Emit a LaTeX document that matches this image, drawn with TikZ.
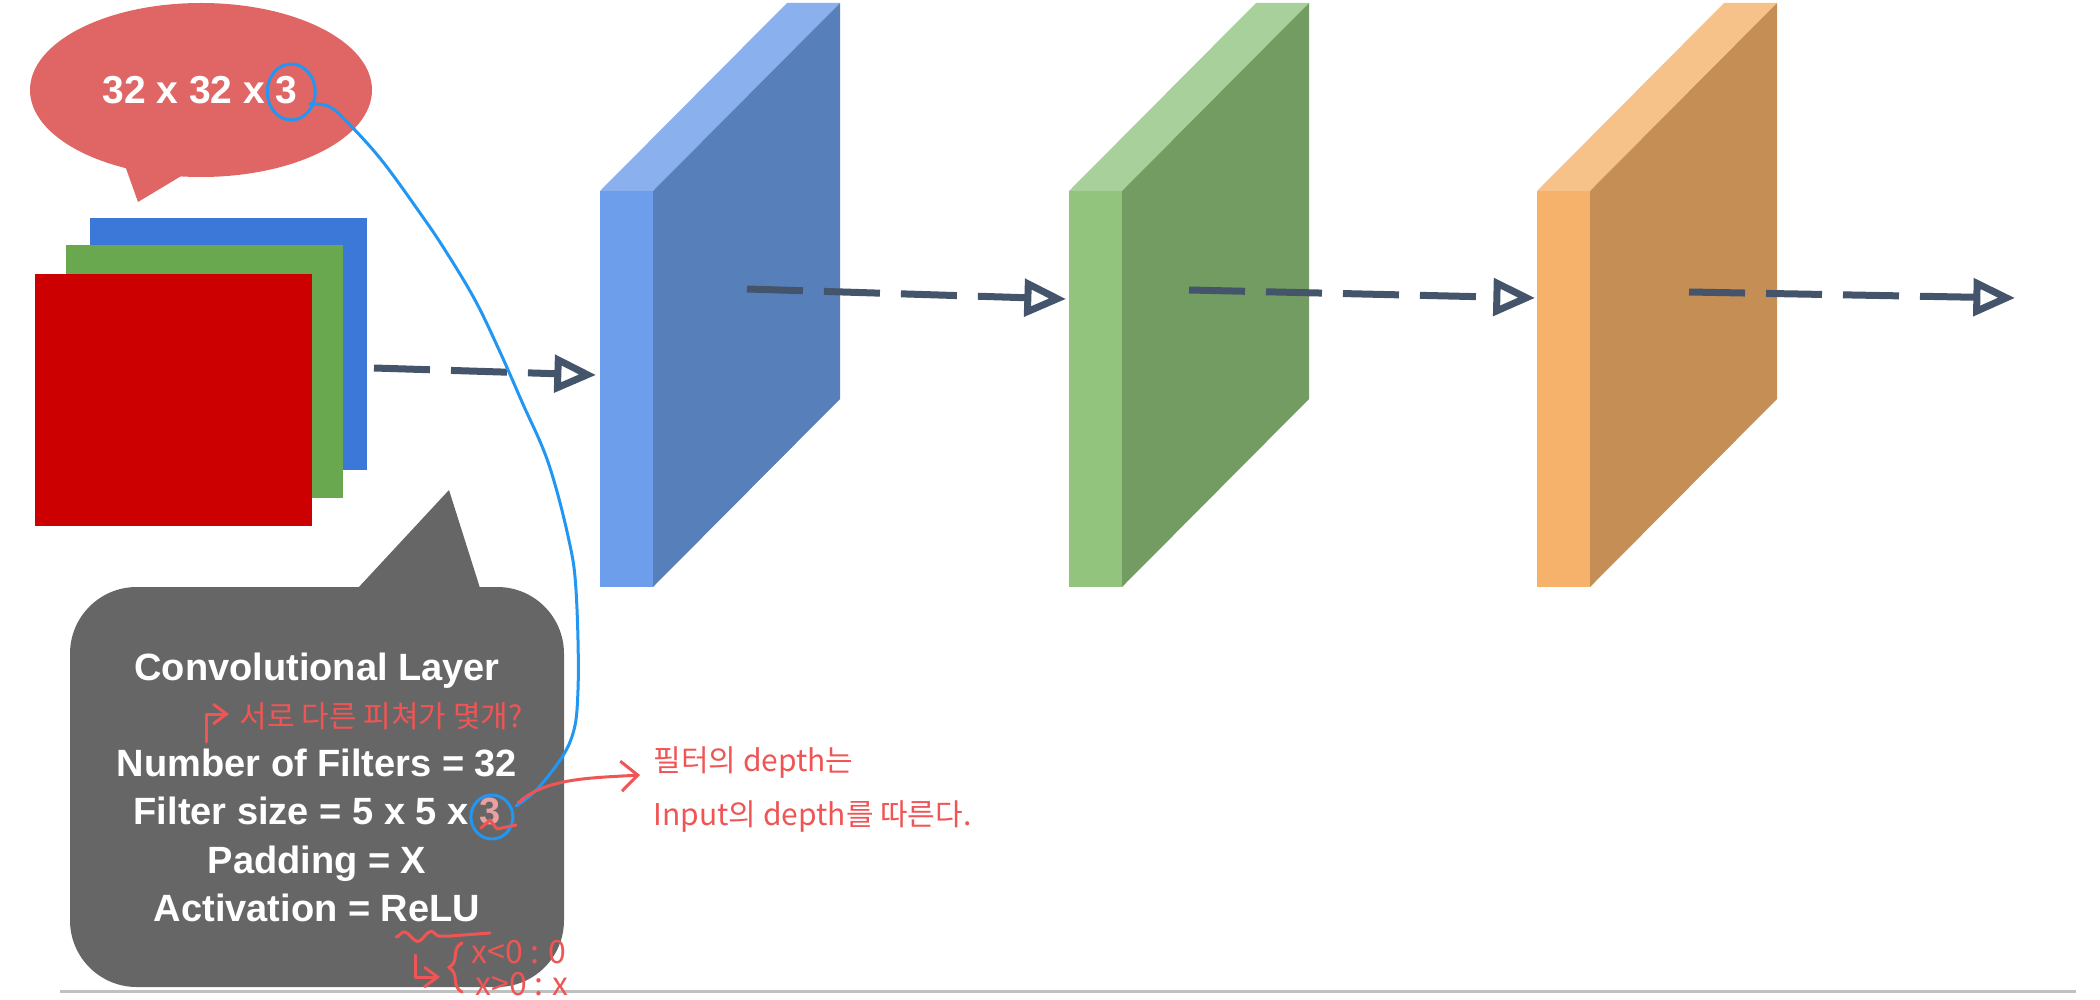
\documentclass[tikz,border=0pt]{standalone}
\usepackage{fontspec}
\setmainfont{Liberation Sans}
\newfontfamily\krfont{Noto Sans CJK KR}
\usetikzlibrary{arrows.meta,shapes.geometric,decorations.pathmorphing,decorations.pathreplacing,calc}
\definecolor{inblue}{RGB}{60,120,216}
\definecolor{ingreen}{RGB}{106,168,79}
\definecolor{inred}{RGB}{204,0,0}
\definecolor{bubred}{RGB}{224,102,102}
\definecolor{callgray}{RGB}{102,102,102}
\definecolor{bfront}{RGB}{109,158,235}
\definecolor{btop}{RGB}{138,176,238}
\definecolor{bside}{RGB}{87,127,186}
\definecolor{gfront}{RGB}{147,196,125}
\definecolor{gtop}{RGB}{168,208,154}
\definecolor{gside}{RGB}{115,156,98}
\definecolor{ofront}{RGB}{246,178,107}
\definecolor{otop}{RGB}{247,194,138}
\definecolor{oside}{RGB}{196,142,84}
\definecolor{arrowc}{RGB}{68,84,106}
\definecolor{penblue}{RGB}{33,150,243}
\definecolor{penred}{RGB}{240,85,85}
\definecolor{pinkthree}{RGB}{232,160,160}
\definecolor{rulegray}{RGB}{192,192,192}
\newcommand\mkslab[5]{%
  \node[slabfront, fill=#3] (#1) at (#2,389) {};
  \fill[#4] (#1.north west) -- ++(187,-188) -- ++(53,0) -- (#1.north east) -- cycle;
  \fill[#5] (#1.north east) -- ++(187,-188) -- ++(0,396) -- (#1.south east) -- cycle;
}
\begin{document}
\begin{tikzpicture}[x=0.3pt,y=-0.3pt,
  insq/.style={rectangle, inner sep=0pt, outer sep=0pt, minimum width=83.1pt, minimum height=75.6pt},
  slabfront/.style={rectangle, inner sep=0pt, outer sep=0pt, minimum width=15.9pt, minimum height=118.8pt},
  flow/.style={draw=arrowc, line width=2.1pt, dash pattern=on 16.8pt off 6.3pt,
    -{Triangle[open, length=12.5pt, width=11pt]}},
  calltext/.style={text=white, font=\fontsize{11.4}{13}\selectfont\bfseries, inner sep=0pt, text height=8.3pt, text depth=0pt},
  pen/.style={draw=penblue, line width=0.9pt, line cap=round, line join=round},
  redpen/.style={draw=penred, line width=0.9pt, line cap=round, line join=round},
  hw/.style={text=penred, font=\krfont\fontsize{9}{10}\selectfont, inner sep=0pt},
  hwsmall/.style={text=penred, font=\krfont\fontsize{9.6}{10}\selectfont, inner sep=0pt}
]
\useasboundingbox (0,0) rectangle (2100,1000);

% bottom rule
\coordinate (r1) at (60,991);
\coordinate (r2) at (2076,991);
\draw[draw=rulegray, line width=0.9pt] (r1) -- (r2);

% input stack
\node[insq, fill=inblue] (inB) at (228.5,344) {};
\node[insq, fill=ingreen] (inG) at (204.5,371.5) {};
\node[insq, fill=inred] (inR) at (173.5,400) {};

% speech bubble
\fill[bubred] (123,160) -- (138,202) -- (188,172) -- cycle;
\node[ellipse, fill=bubred, inner sep=0pt, minimum width=102.6pt, minimum height=52.2pt] (bubble) at (201,90) {};
\node[text=white, font=\fontsize{11.7}{13}\selectfont\bfseries, inner sep=0pt] (btxt) at (200,90) {32 x 32 x 3};

% gray callout
\fill[callgray] (358,588) -- (449,490) -- (480,588) -- cycle;
\node[rectangle, rounded corners=20pt, fill=callgray, inner sep=0pt, minimum width=148.2pt, minimum height=120pt] (call) at (317,787) {};
\node[calltext] (c1) at (317,667) {Convolutional Layer};
\node[calltext] (c2) at (317,763) {Number of Filters = 32};
\node[calltext] (c3) at (317,811) {Filter size = 5 x 5 x {\color{pinkthree}3}};
\node[calltext] (c4) at (317,860) {Padding = X};
\node[calltext] (c5) at (317,908) {Activation = ReLU};

% layers
\mkslab{L1}{626.5}{bfront}{btop}{bside}
\mkslab{L2}{1095.5}{gfront}{gtop}{gside}
\mkslab{L3}{1563.5}{ofront}{otop}{oside}

% arrows
\coordinate (a1s) at (374,368);
\coordinate (a1e) at (596,375);
\coordinate (a2s) at (747,289);
\coordinate (a2e) at (1066,299);
\coordinate (a3s) at (1189,290);
\coordinate (a3e) at (1535,298);
\coordinate (a4s) at (1689,292);
\coordinate (a4e) at (2015,298);
\draw[flow] (a1s) -- (a1e);
\draw[flow] (a2s) -- (a2e);
\draw[flow] (a3s) -- (a3e);
\draw[flow] (a4s) -- (a4e);

% blue pen annotation
\coordinate (o1) at ($(btxt.east)+(-7,2)$);
\coordinate (o2) at ($(c3.east)+(-9,6)$);
\draw[pen] (o1) ellipse [x radius=24, y radius=28];
\draw[pen] (o2) ellipse [x radius=21, y radius=22];
\draw[pen] plot[smooth, tension=0.6] coordinates {(310,104) (330,107) (352,127) (383,162) (420,213) (445,250) (475,300) (500,352) (522,402) (548,462) (568,536) (576,590) (578,690) (570,742) (540,786) (516,806)};

% red pen annotations
\node[hw, anchor=west] (k1) at (239,716) {서로 다른 피쳐가 몇개?};
\coordinate (h1) at (206,742);
\draw[redpen, -{Straight Barb[length=4pt,width=6pt]}] (h1) -- (206,714) -- ($(k1.west)+(-10,-2)$);

\node[hw, anchor=west] (k2) at (653,763) {필터의 depth는};
\node[hw, anchor=west] (k3) at (653,817) {Input의 depth를 따른다.};
\coordinate (h2) at (518,803);
\draw[redpen, -{Straight Barb[length=5pt,width=9pt]}] (h2) .. controls (545,778) and (590,778) .. ($(k2.west)+(-13,12)$);

\draw[redpen] (481,828) -- (490,820) -- (497,829) -- (516,825);

\coordinate (w1) at (396,937);
\coordinate (w2) at (450,936);
\coordinate (w3) at (490,933);
\draw[redpen, decorate, decoration={snake, segment length=8pt, amplitude=1.5pt}] (w1) -- (w2);
\draw[redpen] (w2) -- (w3);
\coordinate (h3) at (415,955);
\node[hwsmall, anchor=west] (k4) at (471,952) {x<0 : 0};
\node[hwsmall, anchor=west] (k5) at (475,984) {x>0 : x};
\draw[redpen, -{Straight Barb[length=4pt,width=6pt]}] (h3) -- (415,977) -- (440,977);
\draw[redpen, decorate, decoration={brace, amplitude=4pt}] (462,992) -- (462,943);
\end{tikzpicture}
\end{document}
